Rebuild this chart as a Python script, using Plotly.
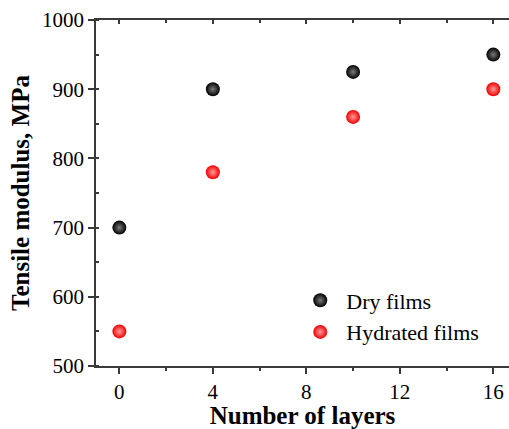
import plotly.graph_objects as go

# Tensile modulus of the films versus the number of deposited layers
layers = [0, 4, 10, 16]
dry_modulus = [700, 900, 925, 950]
hydrated_modulus = [550, 780, 860, 900]

x_ticks = [0, 4, 8, 12, 16]
y_ticks = [500, 600, 700, 800, 900, 1000]

FONT = "Liberation Serif"
AXIS_COLOR = "#3a3a3a"

fig = go.Figure()

fig.add_trace(go.Scatter(
    x=layers, y=dry_modulus, mode="markers", name="Dry films",
    marker=dict(size=14, color="#000000",
                gradient=dict(type="radial", color="#7a7a7a"),
                line=dict(width=0)),
))
fig.add_trace(go.Scatter(
    x=layers, y=hydrated_modulus, mode="markers", name="Hydrated films",
    marker=dict(size=14, color="#f00000",
                gradient=dict(type="radial", color="#ff9a9a"),
                line=dict(width=0)),
))
# invisible trace carrying the top axis with inward ticks
fig.add_trace(go.Scatter(
    x=layers, y=dry_modulus, mode="markers", xaxis="x2",
    marker=dict(opacity=0), showlegend=False, hoverinfo="skip",
))

fig.update_layout(
    width=509, height=429,
    margin=dict(l=96, r=0, t=20, b=63),
    paper_bgcolor="white", plot_bgcolor="white",
    font=dict(family=FONT, color="#000000", size=21),
    showlegend=True,
    legend=dict(x=0.48, y=0.25, xanchor="left", yanchor="top",
                bgcolor="rgba(0,0,0,0)",
                font=dict(family=FONT, size=22, color="#000000"),
                itemwidth=42, tracegroupgap=0),
    xaxis=dict(
        range=[-1, 16.67], tickvals=x_ticks, ticktext=[str(v) for v in x_ticks],
        showgrid=False, zeroline=False,
        showline=True, linecolor=AXIS_COLOR, linewidth=1.5,
        ticks="outside", ticklen=6, tickwidth=1.5, tickcolor=AXIS_COLOR,
        minor=dict(dtick=2, tick0=0, ticks="outside", ticklen=3,
                   tickwidth=1.5, tickcolor=AXIS_COLOR),
        tickfont=dict(family=FONT, size=21, color="#000000"),
        title=dict(text="<b>Number of layers</b>",
                   font=dict(family=FONT, size=25, color="#000000"), standoff=4),
    ),
    xaxis2=dict(
        overlaying="x", side="top", matches="x", range=[-1, 16.67],
        tickvals=x_ticks, showticklabels=False, showgrid=False, zeroline=False,
        showline=True, linecolor=AXIS_COLOR, linewidth=1.5,
        ticks="inside", ticklen=4, tickwidth=1.5, tickcolor=AXIS_COLOR,
        minor=dict(dtick=2, tick0=0, ticks="inside", ticklen=3,
                   tickwidth=1.5, tickcolor=AXIS_COLOR),
    ),
    yaxis=dict(
        range=[500, 1000], tickvals=y_ticks, ticktext=[str(v) for v in y_ticks],
        showgrid=False, zeroline=False,
        showline=True, linecolor=AXIS_COLOR, linewidth=1.5,
        ticks="outside", ticklen=6, tickwidth=1.5, tickcolor=AXIS_COLOR,
        minor=dict(dtick=50, tick0=500, ticks="inside", ticklen=3,
                   tickwidth=1.5, tickcolor=AXIS_COLOR),
        tickfont=dict(family=FONT, size=21, color="#000000"),
        title=dict(text="<b>Tensile modulus, MPa</b>",
                   font=dict(family=FONT, size=25, color="#000000"), standoff=5),
    ),
)

fig.write_html("out.html")
